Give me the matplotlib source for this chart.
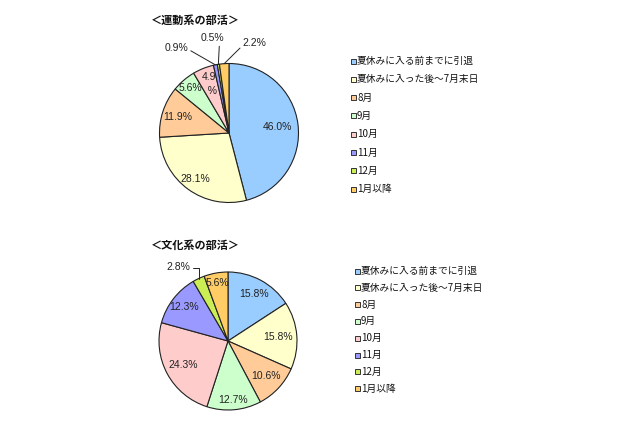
import matplotlib
matplotlib.use("Agg")
import matplotlib.pyplot as plt
import numpy as np
from matplotlib.patches import Rectangle

plt.rcParams['font.family'] = ['Noto Sans CJK JP', 'DejaVu Sans']

categories = ["夏休みに入る前までに引退", "夏休みに入った後～7月末日", "8月", "9月",
              "10月", "11月", "12月", "1月以降"]
sports_values = [46.0, 28.1, 11.9, 5.6, 4.9, 0.9, 0.5, 2.2]
culture_values = [15.8, 15.8, 10.6, 12.7, 24.3, 12.3, 2.8, 5.6]
sports_labels = ["46.0%", "28.1%", "11.9%", "5.6%", "4.9\n  %", "0.9%", "0.5%", "2.2%"]
culture_labels = ["15.8%", "15.8%", "10.6%", "12.7%", "24.3%", "12.3%", "2.8%", "5.6%"]
colors = ["#99CCFF", "#FFFFCC", "#FFCC99", "#CCFFCC", "#FFCCCC", "#9999FF", "#CCEE55", "#FFCC66"]

W, H = 640, 426
fig = plt.figure(figsize=(6.4, 4.26), dpi=100)
fig.patch.set_facecolor("white")

NUMFONT = ['Liberation Sans', 'DejaVu Sans']
LFS = 7.5


def pie_axes(cx, cy, r):
    ax = fig.add_axes([(cx - r) / W, (H - cy - r) / H, 2 * r / W, 2 * r / H])
    return ax


def draw_pie(ax, values, labels, inside_dist, outside):
    wedges, _ = ax.pie(values, colors=colors, startangle=90, counterclock=False,
                       radius=1, wedgeprops=dict(edgecolor="#222222", linewidth=0.8))
    ax.set_xlim(-1, 1)
    ax.set_ylim(-1, 1)
    ax.axis("off")
    for i, w in enumerate(wedges):
        th = np.deg2rad((w.theta1 + w.theta2) / 2)
        if i in outside:
            tx, ty, rel, conn = outside[i]
            ax.annotate(labels[i], xy=(np.cos(th), np.sin(th)), xytext=(tx, ty),
                        ha="center", va="center", fontsize=LFS, family=NUMFONT,
                        color="#222222", annotation_clip=False,
                        arrowprops=dict(arrowstyle="-", color="#222222", lw=0.7,
                                        relpos=rel, connectionstyle=conn,
                                        shrinkA=0, shrinkB=0))
        else:
            d = inside_dist[i]
            ax.text(d * np.cos(th), d * np.sin(th), labels[i], ha="center",
                    va="center", fontsize=LFS, family=NUMFONT, color="#222222",
                    linespacing=1.5)


# Top pie: sports clubs
ax1 = pie_axes(229, 133, 69.5)
draw_pie(ax1, sports_values, sports_labels,
         inside_dist=[0.7, 0.82, 0.77, 0.86, 0.76, 0, 0, 0],
         outside={5: (-0.76, 1.22, (1.0, 0.4), "arc3,rad=0"),
                  6: (-0.24, 1.36, (0.8, 0.0), "arc3,rad=0"),
                  7: (0.37, 1.29, (0.0, 0.3), "arc3,rad=0")})

# Bottom pie: culture clubs
ax2 = pie_axes(228, 341, 69)
draw_pie(ax2, culture_values, culture_labels,
         inside_dist=[0.78, 0.73, 0.75, 0.86, 0.73, 0.81, 0, 0.86],
         outside={6: (-0.72, 1.07, (1.0, 0.4), "angle,angleA=0,angleB=90,rad=0")})

# Titles
fig.text(151 / W, 1 - 20 / H, "＜運動系の部活＞", fontsize=8, fontweight="bold",
         ha="left", va="center", color="#111111")
fig.text(151 / W, 1 - 245 / H, "＜文化系の部活＞", fontsize=8, fontweight="bold",
         ha="left", va="center", color="#111111")


def legend(x_marker, y0, step, x_text):
    for i, (cat, c) in enumerate(zip(categories, colors)):
        y = y0 + i * step
        s = 5
        fig.add_artist(Rectangle(((x_marker - s / 2) / W, 1 - (y + s / 2) / H), s / W, s / H,
                                 transform=fig.transFigure, facecolor=c,
                                 edgecolor="#333333", linewidth=0.7))
        fig.text(x_text / W, 1 - y / H, cat, fontsize=7, ha="left", va="center",
                 color="#111111")


legend(353, 61, 18.3, 357)
legend(357, 271, 16.8, 361)

fig.savefig("out.png", dpi=100, facecolor="white")
